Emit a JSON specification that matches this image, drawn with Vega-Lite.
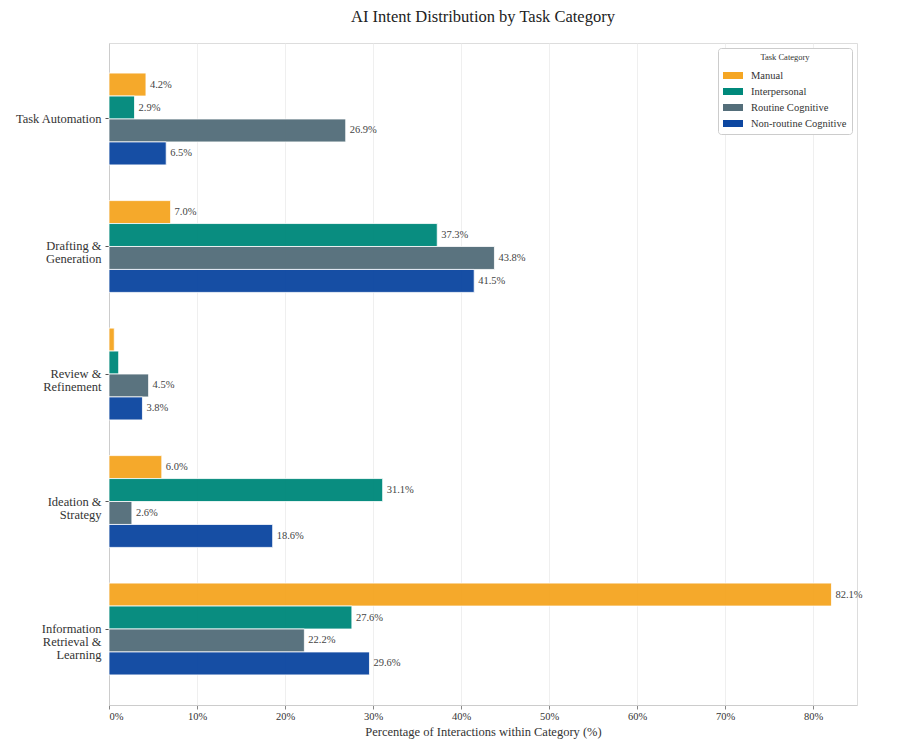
{
  "$schema": "https://vega.github.io/schema/vega-lite/v6.json",
  "autosize": "none",
  "width": 748,
  "height": 662,
  "padding": {"left": 109, "top": 43, "right": 43, "bottom": 40},
  "background": "white",
  "title": {
    "text": "AI Intent Distribution by Task Category",
    "font": "Liberation Serif",
    "fontSize": 16.5,
    "fontWeight": "normal",
    "color": "#222",
    "anchor": "middle",
    "offset": 18
  },
  "config": {
    "font": "Liberation Serif",
    "text": {"font": "Liberation Serif"},
    "axis": {"labelFont": "Liberation Serif", "titleFont": "Liberation Serif"},
    "legend": {"labelFont": "Liberation Serif", "titleFont": "Liberation Serif"},
    "view": {"stroke": "#dddddd", "strokeWidth": 1}
  },
  "data": {
    "values": [
      {"category": "Task Automation", "type": "Manual", "value": 4.2},
      {"category": "Task Automation", "type": "Interpersonal", "value": 2.9},
      {"category": "Task Automation", "type": "Routine Cognitive", "value": 26.9},
      {"category": "Task Automation", "type": "Non-routine Cognitive", "value": 6.5},
      {"category": "Drafting & Generation", "type": "Manual", "value": 7.0},
      {"category": "Drafting & Generation", "type": "Interpersonal", "value": 37.3},
      {"category": "Drafting & Generation", "type": "Routine Cognitive", "value": 43.8},
      {"category": "Drafting & Generation", "type": "Non-routine Cognitive", "value": 41.5},
      {"category": "Review & Refinement", "type": "Manual", "value": 0.6},
      {"category": "Review & Refinement", "type": "Interpersonal", "value": 1.1},
      {"category": "Review & Refinement", "type": "Routine Cognitive", "value": 4.5},
      {"category": "Review & Refinement", "type": "Non-routine Cognitive", "value": 3.8},
      {"category": "Ideation & Strategy", "type": "Manual", "value": 6.0},
      {"category": "Ideation & Strategy", "type": "Interpersonal", "value": 31.1},
      {"category": "Ideation & Strategy", "type": "Routine Cognitive", "value": 2.6},
      {"category": "Ideation & Strategy", "type": "Non-routine Cognitive", "value": 18.6},
      {"category": "Information Retrieval & Learning", "type": "Manual", "value": 82.1},
      {"category": "Information Retrieval & Learning", "type": "Interpersonal", "value": 27.6},
      {"category": "Information Retrieval & Learning", "type": "Routine Cognitive", "value": 22.2},
      {"category": "Information Retrieval & Learning", "type": "Non-routine Cognitive", "value": 29.6}
    ]
  },
  "encoding": {
    "y": {
      "field": "category",
      "type": "nominal",
      "sort": ["Task Automation", "Drafting & Generation", "Review & Refinement", "Ideation & Strategy", "Information Retrieval & Learning"],
      "scale": {"paddingInner": 0.28, "paddingOuter": 0.236},
      "axis": {
        "title": null,
        "labelExpr": "datum.label == 'Drafting & Generation' ? ['Drafting &', 'Generation'] : datum.label == 'Review & Refinement' ? ['Review &', 'Refinement'] : datum.label == 'Ideation & Strategy' ? ['Ideation &', 'Strategy'] : datum.label == 'Information Retrieval & Learning' ? ['Information', 'Retrieval &', 'Learning'] : datum.label",
        "labelFontSize": 12.5,
        "labelColor": "#333",
        "labelPadding": 4,
        "labelLineHeight": 13,
        "tickSize": 4,
        "tickColor": "#555",
        "domainColor": "#cccccc",
        "grid": false
      }
    },
    "yOffset": {
      "field": "type",
      "type": "nominal",
      "sort": ["Manual", "Interpersonal", "Routine Cognitive", "Non-routine Cognitive"],
      "scale": {"paddingInner": 0, "paddingOuter": 0}
    },
    "x": {
      "field": "value",
      "type": "quantitative",
      "scale": {"domain": [0, 85], "nice": false, "zero": true},
      "axis": {
        "title": "Percentage of Interactions within Category (%)",
        "titleFontSize": 12.5,
        "titleFontWeight": "normal",
        "titleColor": "#333",
        "titlePadding": 4,
        "values": [0, 10, 20, 30, 40, 50, 60, 70, 80],
        "labelExpr": "datum.value + '%'",
        "labelFontSize": 10.5,
        "labelColor": "#333",
        "tickSize": 4,
        "tickColor": "#888",
        "domainColor": "#cccccc",
        "grid": true,
        "gridColor": "#ebebeb",
        "gridWidth": 0.8
      }
    }
  },
  "layer": [
    {
      "mark": {"type": "bar", "stroke": "white", "strokeWidth": 0.8, "opacity": 0.96},
      "encoding": {
        "color": {
          "field": "type",
          "type": "nominal",
          "sort": ["Manual", "Interpersonal", "Routine Cognitive", "Non-routine Cognitive"],
          "scale": {
            "domain": ["Manual", "Interpersonal", "Routine Cognitive", "Non-routine Cognitive"],
            "range": ["#F5A623", "#00897B", "#546E7A", "#0D47A1"]
          },
          "legend": {
            "title": "Task Category",
            "titleFontSize": 8.5,
            "titleFontWeight": "normal",
            "titleColor": "#333",
            "titleAnchor": "middle",
            "titlePadding": 4,
            "labelFontSize": 10.5,
            "labelColor": "#333",
            "labelOffset": 8,
            "orient": "top-right",
            "offset": 5,
            "padding": 5,
            "rowPadding": 0,
            "strokeColor": "#cccccc",
            "fillColor": "white",
            "cornerRadius": 3,
            "symbolType": "M-1,-0.35H1V0.35H-1Z",
            "symbolSize": 400,
            "symbolStrokeWidth": 0,
            "symbolOpacity": 1
          }
        }
      }
    },
    {
      "transform": [{"filter": "datum.value >= 2"}],
      "mark": {
        "type": "text",
        "align": "left",
        "baseline": "middle",
        "dx": 4,
        "font": "Liberation Serif",
        "fontSize": 10.5,
        "color": "#444",
        "text": {"expr": "format(datum.value, '.1f') + '%'"}
      }
    }
  ]
}
